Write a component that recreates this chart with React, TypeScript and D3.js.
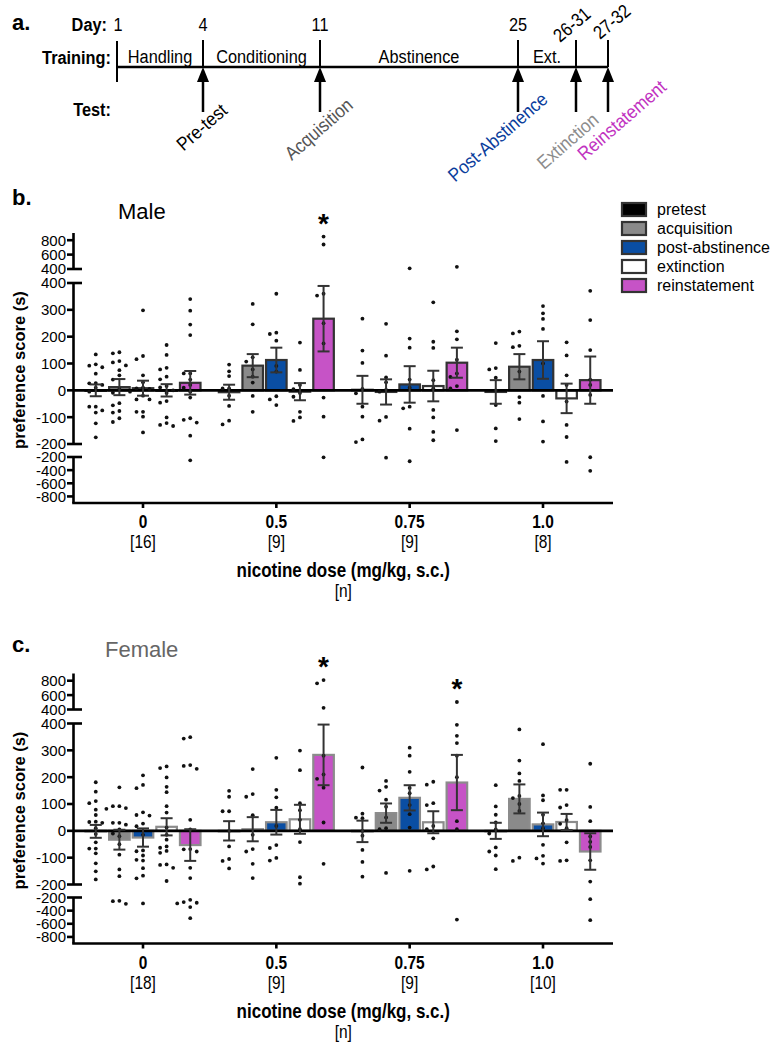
import React from 'react';
import * as d3 from 'd3';

// ---------------- data ----------------
const doses = ['0', '0.5', '0.75', '1.0'];
const tests = ['pretest', 'acquisition', 'post-abstinence', 'extinction', 'reinstatement'];
const testFill = ['#000000', '#8a8a8a', '#0a4ea3', '#ffffff', '#c653c6'];
const maleN = ['[16]', '[9]', '[9]', '[8]'];
const femaleN = ['[18]', '[9]', '[9]', '[10]'];

// mean / SEM per dose (rows) and test (columns)
const maleMean = [
  [0, 12, 8, 0, 28],
  [-7, 92, 113, -5, 267],
  [2, -6, 22, 16, 103],
  [-6, 88, 113, -30, 38],
];
const maleSem = [
  [22, 30, 28, 23, 44],
  [28, 43, 46, 32, 122],
  [52, 47, 68, 57, 56],
  [44, 47, 70, 55, 88],
];
const femaleMean = [
  [-2, -33, -25, 15, -53],
  [0, 6, 32, 43, 283],
  [-2, 66, 123, 32, 180],
  [0, 119, 24, 33, -77],
];
const femaleSem = [
  [24, 37, 34, 32, 59],
  [36, 45, 46, 54, 113],
  [40, 36, 47, 41, 103],
  [30, 54, 44, 30, 68],
];

// individual animals (s)
const malePoints0 = [
  [134, 92, 97, 86, 62, 26, 27, 20, 10, -5, -61, -61, -75, -83, -123, -175],
  [142, 138, 109, 104, 93, 75, 56, 40, 5, -9, -48, -56, -77, -83, -104, -118],
  [298, 128, 116, 56, 30, 10, 7, 5, -5, -20, -34, -34, -80, -80, -98, -157],
  [169, 132, 84, 78, 51, 41, 16, 11, 0, -10, -40, -46, -101, -122, -129, -133],
  [340, 297, 245, 206, 63, 63, 40, 20, 10, -5, -27, -104, -110, -120, -169, -250],
];
const malePoints05 = [
  [96, 71, 53, 7, 7, -20, -58, -113, -127],
  [322, 246, 123, 107, 78, 51, 29, -21, -80],
  [360, 215, 210, 185, 91, 70, -22, -34, -55],
  [178, 76, 20, 4, -10, -24, -80, -101, -114],
  [850, 740, 360, 353, 250, 175, -27, -98, -205],
];
const malePoints075 = [
  [267, 148, 102, 5, -11, -61, -98, -183, -193],
  [248, 129, 48, 30, 2, -5, -99, -113, -210],
  [410, 193, 159, 40, 10, -61, -67, -143, -265],
  [328, 181, 158, 38, 7, -73, -101, -155, -186],
  [430, 220, 190, 114, 63, 50, 16, 7, -148],
];
const malePoints10 = [
  [176, 83, 78, 47, 0, -55, -142, -189],
  [219, 212, 166, 161, 70, -25, -46, -107],
  [314, 287, 266, 229, 100, -21, -116, -191],
  [179, 130, 56, 20, -42, -129, -174, -275],
  [371, 262, 150, 40, 20, -17, -204, -410],
];
const femalePoints0 = [
  [181, 146, 111, 103, 79, 59, 34, 33, 30, 10, -12, -43, -66, -66, -84, -121, -151, -181],
  [162, 92, 92, 85, 82, 30, 30, 23, 5, -10, -20, -50, -89, -144, -169, -250, -256, -296],
  [207, 171, 159, 69, 59, 57, 27, 17, -15, -73, -76, -92, -108, -111, -139, -167, -177, -290],
  [240, 234, 199, 164, 144, 92, 68, 12, -15, -33, -58, -63, -75, -82, -125, -127, -138, -187],
  [349, 344, 245, 242, 231, 41, 5, -68, -69, -77, -138, -176, -236, -270, -280, -290, -345, -515],
];
const femalePoints05 = [
  [149, 127, 73, 73, 0, -58, -105, -112, -140],
  [230, 137, 127, 58, -15, -68, -77, -123, -176],
  [272, 153, 125, 86, 18, -53, -64, -101, -111],
  [299, 226, 103, 77, 41, 6, -42, -173, -197],
  [809, 764, 423, 280, 210, 194, 161, 31, -123],
];
const femalePoints075 = [
  [236, 64, 49, 47, 0, -18, -71, -116, -171],
  [186, 164, 150, 116, 90, 50, 10, 6, -157],
  [310, 280, 220, 160, 140, 96, 62, 12, -149],
  [183, 172, 103, 96, 18, 6, -28, -133, -144],
  [504, 395, 354, 327, 280, 200, 36, 6, -536],
];
const femalePoints10 = [
  [170, 91, 60, 31, 5, -10, -62, -77, -92, -143],
  [378, 262, 214, 186, 130, 122, 100, 74, -100, -112],
  [323, 132, 114, 60, 28, 10, -52, -93, -103, -122],
  [153, 153, 96, 87, 40, 26, 10, -43, -110, -112],
  [250, 89, 36, -21, -41, -60, -110, -189, -226, -545],
];
const malePoints = [malePoints0, malePoints05, malePoints075, malePoints10];
const femalePoints = [femalePoints0, femalePoints05, femalePoints075, femalePoints10];

// significance markers: [dose index, test index]
const maleSig = [[1, 4]];
const femaleSig = [[1, 4], [2, 4]];

const yTicksUpper = [400, 600, 800];
const yTicksMain = [400, 300, 200, 100, 0, -100, -200];
const yTicksLower = [-200, -400, -600, -800];

// timeline
const timelineDays = [1, 4, 11, 25, 26, 27];
const timelineDayLabels = ['1', '4', '11', '25', '26-31', '27-32'];
const phases = ['Handling', 'Conditioning', 'Abstinence', 'Ext.'];
const testNames = ['Pre-test', 'Acquisition', 'Post-Abstinence', 'Extinction', 'Reinstatement'];
const testDays = [4, 11, 25, 26, 27];
const testTextColors = ['#000000', '#555555', '#0a3d9c', '#8c8c8c', '#c133c1'];

// ---------------- layout ----------------
const SANS = "'Liberation Sans', Arial, Helvetica, sans-serif";
const X0 = 73.5;
const X1 = 613;

const xDose = d3.scalePoint<string>().domain(doses).range([143, 543]);
const xTest = d3.scaleBand<string>().domain(tests).range([-57.5, 57.5]).paddingInner(0.13).paddingOuter(0);
const dayX = d3.scaleLinear().domain(timelineDays).range([117, 203, 320, 518, 576, 608]);

// condensed text (narrow face emulated by horizontal scaling)
function NText(props: any) {
  const { x, y, rotate = 0, sx = 0.86, children, ...rest } = props;
  return (
    <text transform={`translate(${x},${y}) rotate(${rotate}) scale(${sx},1)`} fontFamily={SANS} {...rest}>
      {children}
    </text>
  );
}

function makeY(top: number) {
  const up = d3.scaleLinear().domain([400, 900]).range([top + 36, top]);
  const mid = d3.scaleLinear().domain([-200, 400]).range([top + 211, top + 50]);
  const low = d3.scaleLinear().domain([-900, -200]).range([top + 270, top + 224]);
  const f = (v: number) => (v > 400 ? up(v) : v < -200 ? low(v) : mid(v));
  return { up, mid, low, f, axisY: top + 270 };
}

function swarm(values: number[], yf: (v: number) => number, cx: number) {
  const pts = values.map((v) => ({ v, y: yf(v) })).sort((a, b) => a.y - b.y);
  const placed: { x: number; y: number }[] = [];
  const offsets = [0, -6.5, 6.5, -13, 13, -19.5, 19.5];
  for (const p of pts) {
    let done = false;
    for (const o of offsets) {
      const x = cx + o;
      if (!placed.some((q) => Math.abs(q.x - x) < 5 && Math.abs(q.y - p.y) < 4.5)) {
        placed.push({ x, y: p.y });
        done = true;
        break;
      }
    }
    if (!done) placed.push({ x: cx, y: p.y });
  }
  return placed;
}

type PanelProps = {
  top: number;
  mean: number[][];
  sem: number[][];
  points: number[][][];
  sig: number[][];
  nLabels: string[];
  barStroke: string;
  legend: boolean;
};

function Panel({ top, mean, sem, points, sig, nLabels, barStroke, legend }: PanelProps) {
  const Y = makeY(top);
  const y0 = Y.f(0);
  const bw = xTest.bandwidth();
  const cap = 6;
  const segs = [
    { s: Y.up, ticks: yTicksUpper, r: [400, 900], brk: [400] },
    { s: Y.mid, ticks: yTicksMain, r: [-200, 400], brk: [400, -200] },
    { s: Y.low, ticks: yTicksLower, r: [-900, -200], brk: [-200] },
  ];
  return (
    <g>
      {doses.map((d, di) =>
        tests.map((t, ti) => {
          const cx = (xDose(d) as number) + (xTest(t) as number) + bw / 2;
          const ym = Y.f(mean[di][ti]);
          return (
            <rect
              key={`b${di}${ti}`}
              x={cx - bw / 2}
              y={Math.min(ym, y0)}
              width={bw}
              height={Math.max(Math.abs(ym - y0), 0.5)}
              fill={testFill[ti]}
              stroke={barStroke}
              strokeWidth={2.2}
            />
          );
        })
      )}
      <line x1={X0} x2={X1} y1={y0} y2={y0} stroke="#000" strokeWidth={2.6} />
      {doses.map((d, di) =>
        tests.map((t, ti) => {
          const cx = (xDose(d) as number) + (xTest(t) as number) + bw / 2;
          return swarm(points[di][ti], Y.f, cx).map((p, k) => (
            <circle key={`p${di}${ti}${k}`} cx={p.x} cy={p.y} r={1.9} fill="#111" />
          ));
        })
      )}
      {doses.map((d, di) =>
        tests.map((t, ti) => {
          const cx = (xDose(d) as number) + (xTest(t) as number) + bw / 2;
          const yt = Y.f(mean[di][ti] + sem[di][ti]);
          const yb = Y.f(mean[di][ti] - sem[di][ti]);
          return (
            <g key={`e${di}${ti}`} stroke="#333" strokeWidth={2}>
              <line x1={cx} x2={cx} y1={yt} y2={yb} />
              <line x1={cx - cap} x2={cx + cap} y1={yt} y2={yt} />
              <line x1={cx - cap} x2={cx + cap} y1={yb} y2={yb} />
            </g>
          );
        })
      )}
      {sig.map(([di, ti], k) => {
        const cx = (xDose(doses[di]) as number) + (xTest(tests[ti]) as number) + bw / 2;
        const top2 = Y.f(d3.max(points[di][ti]) as number);
        return (
          <text key={`s${k}`} x={cx} y={top2 - 4} textAnchor="middle" fontFamily={SANS} fontWeight="bold" fontSize={28}>
            *
          </text>
        );
      })}
      {segs.map((sg, k) => (
        <g key={`ax${k}`}>
          <line x1={X0} x2={X0} y1={sg.s(sg.r[0])} y2={sg.s(sg.r[1])} stroke="#000" strokeWidth={2.6} />
          {sg.ticks.map((tv) => {
            const isBrk = sg.brk.includes(tv);
            return (
              <g key={`t${tv}`}>
                <line x1={67} x2={isBrk ? 82 : X0} y1={sg.s(tv)} y2={sg.s(tv)} stroke="#000" strokeWidth={2.6} />
                <text x={66} y={sg.s(tv)} dy="0.36em" textAnchor="end" fontFamily={SANS} fontSize={15}>
                  {tv}
                </text>
              </g>
            );
          })}
        </g>
      ))}
      <line x1={X0 - 1.3} x2={X1} y1={Y.axisY} y2={Y.axisY} stroke="#000" strokeWidth={2.6} />
      {doses.map((d, di) => (
        <g key={`xt${di}`}>
          <line x1={xDose(d)} x2={xDose(d)} y1={Y.axisY} y2={Y.axisY + 5} stroke="#000" strokeWidth={2.6} />
          <NText x={xDose(d)} y={Y.axisY + 25} textAnchor="middle" fontWeight="bold" fontSize={18}>
            {d}
          </NText>
          <NText x={xDose(d)} y={Y.axisY + 45} textAnchor="middle" fontSize={18}>
            {nLabels[di]}
          </NText>
        </g>
      ))}
      <NText x={(X0 + X1) / 2} y={Y.axisY + 74} textAnchor="middle" fontWeight="bold" fontSize={20} sx={0.85}>
        nicotine dose (mg/kg, s.c.)
      </NText>
      <NText x={(X0 + X1) / 2} y={Y.axisY + 94} textAnchor="middle" fontSize={18}>
        [n]
      </NText>
      <text
        transform={`translate(25,${top + 137}) rotate(-90)`}
        textAnchor="middle"
        fontFamily={SANS}
        fontWeight="bold"
        fontSize={16.5}
      >
        preference score (s)
      </text>
      {legend &&
        tests.map((t, ti) => (
          <g key={`lg${ti}`}>
            <rect x={622} y={203 + ti * 19} width={24} height={13} fill={testFill[ti]} stroke="#333" strokeWidth={2.2} />
            <text x={657} y={215 + ti * 19} fontFamily={SANS} fontSize={16}>
              {t}
            </text>
          </g>
        ))}
    </g>
  );
}

function Timeline() {
  const lineY = 67;
  const labelPos = [
    [3, 132],
    [3, 134],
    [-16, 142],
    [-4, 146],
    [18, 125],
  ];
  return (
    <g>
      <text x={12} y={30} fontFamily={SANS} fontWeight="bold" fontSize={22}>
        a.
      </text>
      <NText x={107} y={31} textAnchor="end" fontWeight="bold" fontSize={19}>
        Day:
      </NText>
      <NText x={111} y={64} textAnchor="end" fontWeight="bold" fontSize={19}>
        Training:
      </NText>
      <NText x={111} y={116} textAnchor="end" fontWeight="bold" fontSize={19}>
        Test:
      </NText>
      {timelineDays.map((d, i) =>
        i < 4 ? (
          <NText key={`d${i}`} x={dayX(d) + (i === 0 ? 1 : 0)} y={31} textAnchor="middle" fontSize={19}>
            {timelineDayLabels[i]}
          </NText>
        ) : (
          <NText
            key={`d${i}`}
            x={dayX(d) - (i === 4 ? 16 : 8)}
            y={i === 4 ? 43 : 40}
            rotate={-40}
            fontSize={19}
          >
            {timelineDayLabels[i]}
          </NText>
        )
      )}
      {phases.map((p, i) => (
        <NText
          key={`ph${i}`}
          x={(dayX(timelineDays[i]) + dayX(timelineDays[i + 1])) / 2}
          y={63}
          textAnchor="middle"
          fontSize={19}
        >
          {p}
        </NText>
      ))}
      <line x1={dayX(1)} x2={dayX(27)} y1={lineY} y2={lineY} stroke="#000" strokeWidth={2.5} />
      {timelineDays.map((d, i) => (
        <line
          key={`tk${i}`}
          x1={dayX(d)}
          x2={dayX(d)}
          y1={i === 0 ? 41 : 40}
          y2={i === 0 ? 82 : lineY}
          stroke="#000"
          strokeWidth={2}
        />
      ))}
      {testDays.map((d, i) => {
        const x = dayX(d);
        return (
          <g key={`ar${i}`}>
            <line x1={x} x2={x} y1={112} y2={80} stroke="#000" strokeWidth={2.5} />
            <polygon points={`${x - 6},82 ${x + 6},82 ${x},${lineY}`} fill="#000" />
          </g>
        );
      })}
      {testNames.map((n, i) => {
        const x = dayX(testDays[i]);
        return (
          <NText
            key={`tn${i}`}
            x={x + labelPos[i][0]}
            y={labelPos[i][1]}
            rotate={-41}
            sx={0.9}
            textAnchor="middle"
            fontSize={19}
            fill={testTextColors[i]}
          >
            {n}
          </NText>
        );
      })}
    </g>
  );
}

export default function App() {
  return (
    <svg
      width={784}
      height={1050}
      viewBox="0 0 784 1050"
      style={{ position: 'absolute', left: 0, top: 0, background: '#fff', display: 'block' }}
    >
      <rect width={784} height={1050} fill="#fff" />
      <Timeline />
      <text x={12} y={205} fontFamily={SANS} fontWeight="bold" fontSize={22}>
        b.
      </text>
      <text x={118} y={219} fontFamily={SANS} fontSize={22}>
        Male
      </text>
      <Panel
        top={233}
        mean={maleMean}
        sem={maleSem}
        points={malePoints}
        sig={maleSig}
        nLabels={maleN}
        barStroke="#333"
        legend={true}
      />
      <text x={12} y={652} fontFamily={SANS} fontWeight="bold" fontSize={22}>
        c.
      </text>
      <text x={105} y={657} fontFamily={SANS} fontSize={22} fill="#666">
        Female
      </text>
      <Panel
        top={673.5}
        mean={femaleMean}
        sem={femaleSem}
        points={femalePoints}
        sig={femaleSig}
        nLabels={femaleN}
        barStroke="#8c8c8c"
        legend={false}
      />
    </svg>
  );
}
